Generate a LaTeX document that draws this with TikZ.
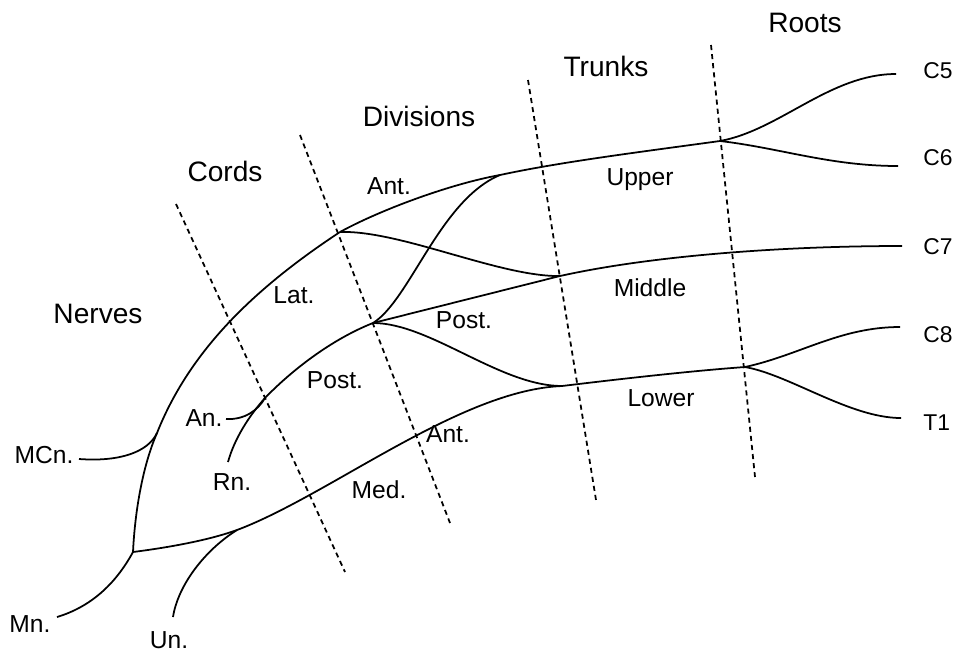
\documentclass[tikz,border=0pt]{standalone}
\usepackage{fontspec}
\setmainfont{Liberation Sans}
\begin{document}
\begin{tikzpicture}[x=0.02cm,y=-0.02cm,
    nerve/.style={line width=1pt},
    zone/.style={line width=1pt,dash pattern=on 2.9pt off 2.3pt},
    head/.style={font=\fontsize{16}{18}\selectfont},
    lbl/.style={font=\fontsize{14}{16}\selectfont},
    rootlbl/.style={font=\fontsize{13}{15}\selectfont, anchor=west, inner sep=0pt}]
            \useasboundingbox (0,0) rectangle (955,653);
            \begin{scope}
                % section titles
                \node[head, name=roots] at (805,23) {Roots};
                \node[head, name=trunks] at (606,66) {Trunks};
                \node[head, name=divisions] at (419,116) {Divisions};
                \node[head, name=cords] at (225,171) {Cords};
                \node[head, name=nerves] at (98,314) {Nerves};
                % root ends
                \node[rootlbl, name=C5] at (923,71) {C5};
                \node[rootlbl, name=C6] at (923,158) {C6};
                \node[rootlbl, name=C7] at (923,247) {C7};
                \node[rootlbl, name=C8] at (923,335) {C8};
                \node[rootlbl, name=T1] at (923,423) {T1};
                \coordinate (c5) at (896,74);
                \coordinate (c6) at (898,166);
                \coordinate (c7) at (902,246);
                \coordinate (c8) at (900,327);
                \coordinate (t1) at (901,418);
                % junctions
                \coordinate (upperJ) at (720,141);
                \coordinate (lowerJ) at (745,367);
                \coordinate (upperD) at (500,175);
                \coordinate (middleD) at (560,276);
                \coordinate (lowerD) at (562,386);
                \coordinate (latO) at (340,232);
                \coordinate (postO) at (373,323);
                \coordinate (medJ) at (237,530);
                \coordinate (mnJ) at (133,552);
                \coordinate (mcnJ) at (157,433);
                \coordinate (anJ) at (265,398);
                % nerve ends
                \coordinate (mcn) at (79,459);
                \coordinate (an) at (226,419);
                \coordinate (rn) at (228,462);
                \coordinate (mn) at (57,617);
                \coordinate (un) at (173,617);
                % zone borders
                \draw[zone] (711,45) -- (755,477);
                \draw[zone] (528,80) -- (596,500);
                \draw[zone] (300,135) -- (450,523);
                \draw[zone] (176,204) -- (345,572);
                % roots
                \draw[nerve] (upperJ) .. controls (780,130) and (830,74) .. (c5);
                \draw[nerve] (upperJ) .. controls (780,148) and (830,166) .. (c6);
                \draw[nerve] (lowerJ) .. controls (800,355) and (840,327) .. (c8);
                \draw[nerve] (lowerJ) .. controls (790,375) and (850,418) .. (t1);
                % trunks
                \draw[nerve] (upperD) .. controls (560,162) and (640,152) .. (upperJ);
                \draw[nerve] (middleD) .. controls (650,256) and (780,246) .. (c7);
                \draw[nerve] (lowerD) .. controls (620,379) and (690,371) .. (lowerJ);
                % divisions
                \draw[nerve] (latO) .. controls (380,210) and (450,184) .. (upperD);
                \draw[nerve] (postO) .. controls (410,300) and (440,200) .. (upperD);
                \draw[nerve] (latO) .. controls (400,230) and (500,277) .. (middleD);
                \draw[nerve] (postO) -- (middleD);
                \draw[nerve] (postO) .. controls (430,323) and (500,386) .. (lowerD);
                \draw[nerve] (medJ) .. controls (330,495) and (460,390) .. (lowerD);
                % cords
                \draw[nerve] (latO) .. controls (255,288) and (190,350) .. (mcnJ);
                \draw[nerve] (mcnJ) .. controls (143,465) and (135,510) .. (mnJ);
                \draw[nerve] (mnJ) .. controls (180,546) and (215,538) .. (medJ);
                \draw[nerve] (postO) .. controls (330,340) and (290,372) .. (anJ);
                \draw[nerve] (anJ) .. controls (248,417) and (234,440) .. (rn);
                % nerves
                \draw[nerve] (mcn) .. controls (120,462) and (148,452) .. (mcnJ);
                \draw[nerve] (an) .. controls (245,420) and (258,410) .. (anJ);
                \draw[nerve] (mnJ) .. controls (115,585) and (90,607) .. (mn);
                \draw[nerve] (medJ) .. controls (205,550) and (178,585) .. (un);
                % labels
                \node[lbl, name=upper] at (640,180) {Upper};
                \node[lbl, name=middle] at (650,288) {Middle};
                \node[lbl, name=lower] at (661,398) {Lower};
                \node[lbl, name=antU] at (389,186) {Ant.};
                \node[lbl, name=postD] at (464,320) {Post.};
                \node[lbl, name=antL] at (448,434) {Ant.};
                \node[lbl, name=lat] at (294,295) {Lat.};
                \node[lbl, name=postC] at (335,380) {Post.};
                \node[lbl, name=med] at (379,490) {Med.};
                \node[lbl, name=anL] at (204,418) {An.};
                \node[lbl, name=rnL] at (232,482) {Rn.};
                \node[lbl, name=mcnL] at (44,455) {MCn.};
                \node[lbl, name=mnL] at (30,624) {Mn.};
                \node[lbl, name=unL] at (169,640) {Un.};
            \end{scope}
\end{tikzpicture}
\end{document}
